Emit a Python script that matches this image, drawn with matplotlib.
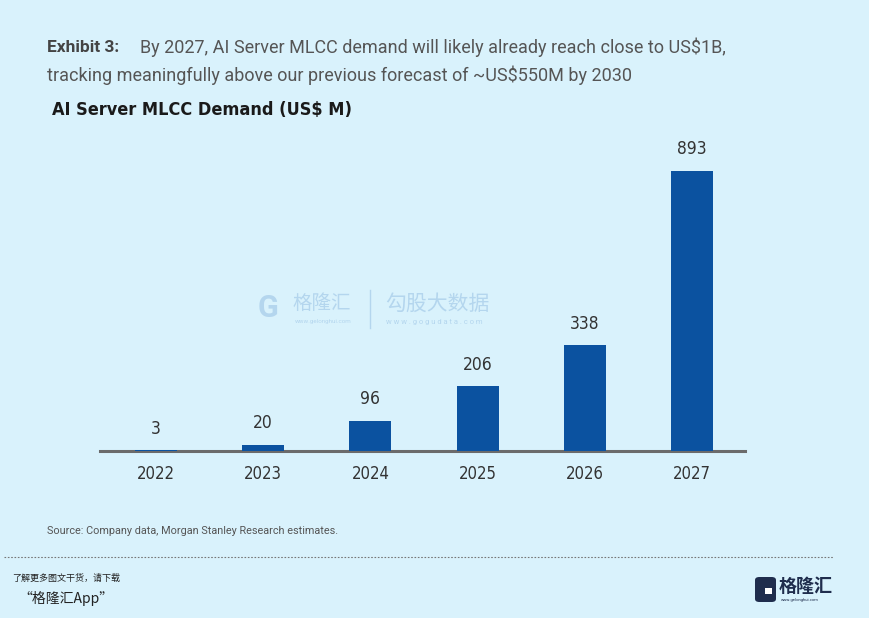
import matplotlib.pyplot as plt
from matplotlib.patches import FancyBboxPatch

years = ["2022", "2023", "2024", "2025", "2026", "2027"]
demand = [3, 20, 96, 206, 338, 893]

bg = "#d9f2fc"
bar_color = "#0b52a0"

plt.rcParams["font.family"] = ["Roboto", "Noto Sans CJK SC", "DejaVu Sans"]
narrow = dict(fontfamily="DejaVu Sans", fontstretch="condensed")

fig = plt.figure(figsize=(8.7, 6.18), dpi=100, facecolor=bg)
W, H = 870, 618

def fx(px):
    return px / W

def fy(py):
    return 1 - py / H

# plot area: x 100..745 px, baseline at y=451, top at y=140
ax = fig.add_axes([fx(100), fy(451), fx(645), (451 - 140) / H])
ax.set_facecolor(bg)
x = range(len(years))
bars = ax.bar(x, demand, width=0.39, color=bar_color, zorder=3)
ax.set_xlim(-0.522, 5.494)
ax.set_ylim(0, 311 / 0.3136)
for s in ["top", "right", "left"]:
    ax.spines[s].set_visible(False)
ax.spines["bottom"].set_color("#6b6b6b")
ax.spines["bottom"].set_linewidth(2.2)
ax.set_yticks([])
ax.set_xticks(list(x))
ax.set_xticklabels(years, fontsize=12, color="#333333", **narrow)
ax.tick_params(axis="x", length=0, pad=10)
for xi, v in zip(x, demand):
    ax.annotate(str(v), (xi, v), xytext=(0, 9), textcoords="offset points",
                ha="center", va="bottom", fontsize=12.5, color="#333333", **narrow)

# header
fig.text(fx(47), fy(47), "Exhibit 3:", fontsize=12.5, fontweight="bold",
         color="#444444", va="center")
fig.text(fx(140), fy(47), "By 2027, AI Server MLCC demand will likely already reach close to US$1B,",
         fontsize=13, color="#555555", va="center")
fig.text(fx(47), fy(75), "tracking meaningfully above our previous forecast of ~US$550M by 2030",
         fontsize=13, color="#555555", va="center")
fig.text(fx(52), fy(110), "AI Server MLCC Demand (US$ M)", fontsize=13,
         fontweight="bold", color="#1a1a1a", va="center", **narrow)

fig.text(fx(47), fy(531), "Source: Company data, Morgan Stanley Research estimates.",
         fontsize=7.8, color="#555555", va="center")

# watermark
wm = "#b4d6ee"
fig.text(fx(258), fy(308), "G", fontsize=22, fontweight="bold", color=wm, va="center")
fig.text(fx(292), fy(303), "格隆汇", fontfamily=["Noto Sans CJK SC"], fontsize=14,
         color=wm, va="center")
fig.text(fx(295), fy(322), "www.gelonghui.com", fontsize=4.5, color=wm, va="center")
fig.add_artist(plt.Line2D([fx(370), fx(370)], [fy(290), fy(328)], color=wm, lw=1))
fig.text(fx(385), fy(304), "勾股大数据", fontfamily=["Noto Sans CJK SC"], fontsize=15,
         color=wm, va="center")
fig.text(fx(386), fy(322), "w w w . g o g u d a t a . c o m", fontsize=5.5,
         color=wm, va="center")

# footer
fig.add_artist(plt.Line2D([fx(4), fx(833)], [fy(557), fy(557)], color="#777777",
                          lw=0.8, ls=(0, (1.5, 1.5))))
fig.text(fx(12), fy(578), "了解更多图文干货，请下载", fontfamily=["Noto Sans CJK SC"],
         fontsize=6.5, color="#222222", va="center", style="italic")
fig.text(fx(18), fy(598), "“格隆汇App”", fontfamily=["Noto Sans CJK SC", "DejaVu Sans"],
         fontsize=10, color="#222222", va="center", style="italic")
fig.add_artist(FancyBboxPatch((fx(755), fy(602)), fx(21), (602 - 577) / H,
                              boxstyle="round,pad=0,rounding_size=0.005",
                              facecolor="#1f2d4d", edgecolor="none"))
fig.add_artist(FancyBboxPatch((fx(765), fy(594)), fx(7), (594 - 588) / H,
                              boxstyle="square,pad=0", facecolor="white",
                              edgecolor="none"))
fig.text(fx(779), fy(586), "格隆汇", fontfamily=["Noto Sans CJK SC"], fontsize=13,
         fontweight="bold", color="#1f2d4d", va="center")
fig.text(fx(781), fy(600), "www.gelonghui.com", fontsize=3, color="#1f2d4d",
         va="center")

fig.savefig("out.png", dpi=100, facecolor=bg)
